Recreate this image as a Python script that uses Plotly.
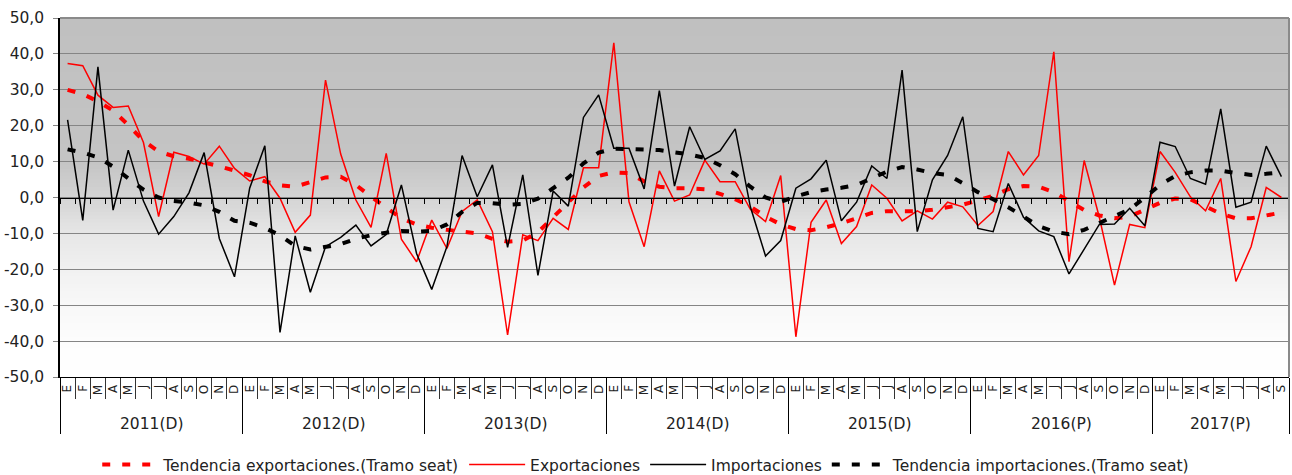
import plotly.graph_objects as go

months = ["E", "F", "M", "A", "M", "J", "J", "A", "S", "O", "N", "D"]
years = ["2011(D)", "2012(D)", "2013(D)", "2014(D)", "2015(D)", "2016(P)", "2017(P)"]
months_per_year = [12, 12, 12, 12, 12, 12, 9]

exportaciones = [
    37.3, 36.7, 28.5, 25.1, 25.5, 15.3, -5.3, 12.6, 11.4, 9.3, 14.3, 8.1,
    4.6, 5.8, -0.2, -9.7, -4.9, 32.7, 12.1, -0.7, -8.3, 12.3, -11.6, -17.9,
    -6.3, -14.2, -3.9, -0.7, -9.5, -38.3, -10.4, -12.0, -5.8, -8.9, 8.3, 8.3,
    43.1, -1.2, -13.7, 7.4, -1.0, 0.7, 10.4, 4.4, 4.4, -3.3, -6.7, 6.1,
    -38.8, -6.9, -0.7, -12.8, -8.1, 3.5, -0.2, -6.5, -3.7, -6.0, -1.3, -2.6,
    -7.8, -3.9, 12.8, 6.3, 11.7, 40.6, -17.9, 10.3, -5.5, -24.4, -7.5, -8.4,
    12.8, 7.0, 0.2, -3.7, 5.3, -23.4, -13.7, 2.8, 0.0,
]
importaciones = [
    21.6, -6.4, 36.4, -3.5, 13.2, -1.0, -10.2, -5.3, 1.3, 12.5, -11.4, -22.1,
    2.6, 14.4, -37.6, -10.7, -26.4, -13.7, -11.1, -7.7, -13.5, -10.3, 3.5, -15.6,
    -25.6, -13.7, 11.7, 0.2, 9.1, -13.9, 6.3, -21.7, 1.8, -2.4, 22.3, 28.6,
    13.7, 13.7, 2.4, 29.8, 3.2, 19.7, 10.6, 13.0, 19.1, -2.6, -16.3, -12.0,
    2.6, 5.2, 10.4, -6.5, -1.3, 8.8, 5.3, 35.5, -9.5, 4.9, 11.7, 22.5,
    -8.6, -9.5, 3.9, -5.5, -9.3, -10.9, -21.3, -14.2, -7.5, -7.4, -3.0, -7.9,
    15.4, 14.2, 5.3, 3.7, 24.7, -2.7, -1.3, 14.3, 5.8,
]
tendencia_exp = [
    30.0, 28.8, 26.8, 24.2, 20.2, 15.8, 12.8, 11.5, 10.8, 9.8, 8.7, 7.5,
    6.2, 4.5, 3.4, 3.0, 4.2, 5.6, 5.8, 3.5, 0.2, -2.8, -5.8, -7.5,
    -8.4, -9.0, -9.5, -10.0, -11.5, -12.3, -12.0, -9.7, -5.5, -1.5, 2.8, 6.0,
    7.0, 6.8, 4.5, 3.0, 2.6, 2.6, 2.3, 1.0, -0.5, -2.5, -5.3, -7.5,
    -8.8, -9.1, -8.3, -7.2, -5.8, -4.3, -3.8, -3.7, -3.8, -3.4, -2.8, -2.0,
    -0.8, 0.5, 2.3, 3.2, 3.0, 1.5, -1.0, -3.5, -5.0, -5.8, -5.3, -3.5,
    -1.5, -0.3, -0.5, -2.5, -4.5, -5.8, -5.8, -5.0, -4.2,
]
tendencia_imp = [
    13.4, 12.5, 11.2, 8.6, 5.3, 2.2, 0.0, -1.0, -1.4, -2.2, -4.0, -6.5,
    -7.0, -8.5, -10.5, -13.5, -14.5, -13.8, -13.0, -11.5, -10.5, -9.8, -9.3, -9.5,
    -9.3, -7.5, -4.0, -1.5, -1.6, -2.0, -1.8, -0.3, 2.5, 5.5, 9.5, 12.5,
    13.6, 13.4, 13.2, 13.2, 12.6, 12.0, 11.0, 9.0, 6.5, 3.0, 0.0, -1.2,
    0.3, 1.5, 2.2, 2.7, 3.5, 5.5, 7.2, 8.5, 7.8, 6.8, 6.3, 4.0,
    1.5, -0.5, -2.7, -5.3, -8.0, -9.5, -10.2, -9.0, -7.0, -5.0, -3.3, 0.0,
    3.5, 6.0, 7.0, 7.5, 7.5, 6.8, 6.3, 6.6, 7.0,
]
y_ticks = [-50, -40, -30, -20, -10, 0, 10, 20, 30, 40, 50]
y_ticktext = ["-50,0", "-40,0", "-30,0", "-20,0", "-10,0", "0,0",
              "10,0", "20,0", "30,0", "40,0", "50,0"]

# category positions and labels
n = len(exportaciones)
xs = list(range(n))
month_labels = []
for cnt in months_per_year:
    month_labels += months[:cnt]

year_bounds = [-0.5]
for cnt in months_per_year:
    year_bounds.append(year_bounds[-1] + cnt)
year_centers = [(year_bounds[i] + year_bounds[i + 1]) / 2 for i in range(len(years))]
month_bounds = [i - 0.5 for i in range(n + 1) if (i - 0.5) not in year_bounds]
all_bounds = [i - 0.5 for i in range(n + 1)]

FONT = "DejaVu Sans, Verdana, sans-serif"
FS = 15.5
TXT = "#222222"

fig = go.Figure()
fig.add_trace(go.Scatter(x=xs, y=tendencia_exp, mode="lines",
                         name="Tendencia exportaciones.(Tramo seat)",
                         line=dict(color="#ff0000", width=4, dash="8px,12px")))
fig.add_trace(go.Scatter(x=xs, y=exportaciones, mode="lines", name="Exportaciones",
                         line=dict(color="#ff0000", width=1.5)))
fig.add_trace(go.Scatter(x=xs, y=importaciones, mode="lines", name="Importaciones",
                         line=dict(color="#000000", width=1.5)))
fig.add_trace(go.Scatter(x=xs, y=tendencia_imp, mode="lines",
                         name="Tendencia importaciones.(Tramo seat)",
                         line=dict(color="#000000", width=4, dash="8px,12px")))
# dummy traces so that helper axes are drawn
for ax in ["x2", "x3", "x4"]:
    fig.add_trace(go.Scatter(x=[None], y=[None], xaxis=ax, yaxis="y",
                             showlegend=False, hoverinfo="skip", mode="lines"))

# gradient background
def shade(v):
    pts = [(50, 192), (10, 196), (0, 212), (-10, 230), (-20, 241), (-30, 248), (-40, 253), (-50, 255)]
    for (a, ca), (b, cb) in zip(pts, pts[1:]):
        if b <= v <= a:
            t = (a - v) / (a - b)
            return round(ca + (cb - ca) * t)
    return 255

shapes = []
step = 1
v = 50
while v > -50:
    c = shade(v - step / 2)
    shapes.append(dict(type="rect", xref="paper", yref="y", x0=0, x1=1,
                       y0=max(v - step - 0.4, -50), y1=v,
                       fillcolor=f"rgb({c},{c},{c})", line=dict(width=0), layer="below"))
    v -= step
# top and right border
shapes.append(dict(type="line", xref="paper", yref="paper", x0=0, x1=1, y0=1, y1=1,
                   line=dict(color="#8a8a8a", width=2)))
shapes.append(dict(type="line", xref="paper", yref="paper", x0=1, x1=1, y0=0, y1=1,
                   line=dict(color="#8a8a8a", width=2)))

annotations = []
for yl, xc in zip(years, year_centers):
    annotations.append(dict(text=yl, x=xc, xref="x", y=-0.131, yref="paper",
                            showarrow=False, xanchor="center", yanchor="middle",
                            font=dict(family=FONT, size=FS, color=TXT)))

rng = [-0.5, n - 0.5]
fig.update_layout(
    width=1292, height=475,
    margin=dict(l=60, r=3, t=18, b=98, autoexpand=False),
    paper_bgcolor="white", plot_bgcolor="white",
    font=dict(family=FONT, size=FS, color=TXT),
    shapes=shapes, annotations=annotations,
    showlegend=True,
    legend=dict(orientation="h", x=0.477, xanchor="center", y=-0.245, yanchor="middle",
                font=dict(family=FONT, size=FS, color=TXT),
                itemwidth=56, tracegroupgap=0),
    xaxis=dict(range=rng, tickvals=xs, ticktext=month_labels, tickangle=-90,
               tickfont=dict(family=FONT, size=12, color=TXT), automargin=False,
               showgrid=False, zeroline=False, showline=True, linecolor="#000000",
               linewidth=1, ticks="", ticklabelstandoff=2),
    xaxis2=dict(range=rng, overlaying="x", anchor="free", position=0.5, side="bottom",
                tickvals=all_bounds, ticks="outside", ticklen=5, tickcolor="#000000",
                showticklabels=False, showgrid=False, zeroline=False, showline=True,
                linecolor="#000000", linewidth=1, automargin=False),
    xaxis3=dict(range=rng, overlaying="x", anchor="y", side="bottom",
                tickvals=month_bounds, ticks="outside", ticklen=21, tickcolor="#333333",
                showticklabels=False, showgrid=False, zeroline=False, showline=False,
                automargin=False),
    xaxis4=dict(range=rng, overlaying="x", anchor="y", side="bottom",
                tickvals=year_bounds, ticks="outside", ticklen=56, tickcolor="#000000",
                showticklabels=False, showgrid=False, zeroline=False, showline=False,
                automargin=False),
    yaxis=dict(range=[-50, 50], tickvals=y_ticks, ticktext=y_ticktext,
               showgrid=True, gridcolor="#858585", gridwidth=1, zeroline=False,
               showline=True, linecolor="#000000", linewidth=1.5,
               ticks="outside", ticklen=5, tickcolor="#858585", automargin=False,
               tickfont=dict(family=FONT, size=FS, color=TXT),
               ticklabelstandoff=6),
)

fig.write_html(
    "out.html",
    config={"displayModeBar": False},
    post_script="document.body.style.margin='0';document.body.style.padding='0';"
                "document.body.style.overflow='hidden';"
                "document.documentElement.style.overflow='hidden';",
)
